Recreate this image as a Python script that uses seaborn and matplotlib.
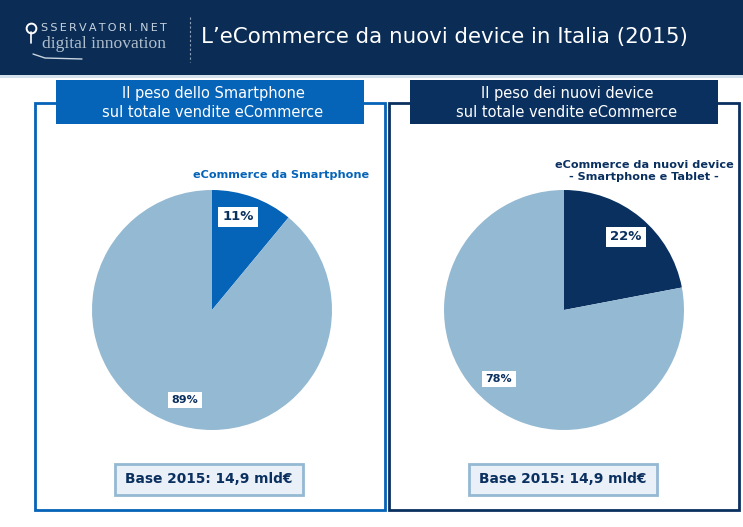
import matplotlib
matplotlib.use('Agg')
import matplotlib.pyplot as plt
from matplotlib.patches import Rectangle
from matplotlib.lines import Line2D
import seaborn as sns

title = "L\u2019eCommerce da nuovi device in Italia (2015)"
left_head = "Il peso dello Smartphone\nsul totale vendite eCommerce"
right_head = "Il peso dei nuovi device\nsul totale vendite eCommerce"
left_label = "eCommerce da Smartphone"
right_label = "eCommerce da nuovi device\n- Smartphone e Tablet -"
base_text = "Base 2015: 14,9 mld\u20ac"
left_values = [11, 89]
right_values = [22, 78]

NAVY = '#0b2d55'
DARK = '#0a3060'
BLUE = '#0563b8'
LIGHT = '#94b9d2'

sns.set_theme(style='white')
plt.rcParams['font.family'] = ['DejaVu Sans']

W, H = 743, 527
fig = plt.figure(figsize=(W / 100, H / 100), dpi=100, facecolor='white')

# background axes in pixel coords, y going down
bg = fig.add_axes([0, 0, 1, 1])
bg.set_xlim(0, W)
bg.set_ylim(H, 0)
bg.axis('off')


def box(x0, y0, x1, y1, **kw):
    bg.add_patch(Rectangle((x0, y0), x1 - x0, y1 - y0, **kw))


box(0, 0, W, 75, fc=NAVY, ec='none')
box(0, 75, W, 78, fc='#d5e2ee', ec='none', zorder=1)
bg.text(201, 37, title, color='white', fontsize=15.4, va='center', ha='left')

# logo
bg.text(41, 28, "\u2009".join("SSERVATORI.NET"), color='#c8d4e0', fontsize=8, va='center', ha='left')
bg.text(42, 43.5, "digital innovation", color='#aebdcc', fontsize=12.6, family='Liberation Serif',
        va='center', ha='left')
bg.plot([31, 31], [32, 43], color='white', lw=1.2)
bg.plot([31], [28], 'o', mfc='none', mec='white', ms=7, mew=1.4)
bg.plot([33, 45, 82], [54, 58, 59], color='#c8d4e0', lw=1)
bg.add_line(Line2D([190, 190], [17, 62], color='#8fa3b8', lw=0.8, ls=(0, (2, 2))))


def panel(x0, x1, head_x0, head_x1, color, head, label, label_xy, values, slice_color, center, base_x):
    box(x0, 103, x1, 510, fc='white', ec=color, lw=2, zorder=2)
    box(head_x0, 80, head_x1, 124, fc=color, ec='none', zorder=3)
    bg.text((head_x0 + head_x1) / 2 + 3, 103, head, color='white', fontsize=10.5, ha='center', va='center',
            linespacing=1.36, zorder=4)
    bg.text(label_xy[0], label_xy[1], label, color=color, fontsize=8.1, fontweight='bold', ha='center',
            va='center', linespacing=1.3, zorder=4)

    ax = fig.add_axes([(center[0] - 121) / W, 1 - (center[1] + 121) / H, 242 / W, 242 / H])
    ax.set_zorder(2)
    ax.pie(values, colors=[slice_color, LIGHT], startangle=90, counterclock=False, radius=1,
           wedgeprops={'linewidth': 0})
    ax.set_xlim(-121 / 120, 121 / 120)
    ax.set_ylim(-121 / 120, 121 / 120)
    ax.patch.set_alpha(0)

    # base box
    box(base_x, 464, base_x + 188, 495, fc='#e9f0f7', ec=LIGHT, lw=2, zorder=3)
    bg.text(base_x + 94, 479, base_text, color=DARK, fontsize=9.9, fontweight='bold', ha='center', va='center',
            zorder=4)
    return ax


ax1 = panel(35, 385, 56, 364, BLUE, left_head, left_label, (281, 175), left_values, BLUE, (212, 310), 115)
ax2 = panel(389, 739, 410, 718, DARK, right_head, right_label, (644, 171), right_values, DARK, (564, 310), 469)

for ax, cen, vals, pos in [(ax1, (212, 310), left_values, [(238, 217, 9.5), (185, 400, 8)]),
                           (ax2, (564, 310), right_values, [(626, 237, 9.5), (499, 379, 8)])]:
    for v, (px, py, fs) in zip(vals, pos):
        ax.text((px - cen[0]) / 120, (cen[1] - py) / 120, f"{v}%", color=DARK, fontsize=fs, fontweight='bold',
                ha='center', va='center', zorder=6,
                bbox=dict(boxstyle='square,pad=0.3', fc='white', ec='none'))

fig.savefig('out.png', dpi=100)
